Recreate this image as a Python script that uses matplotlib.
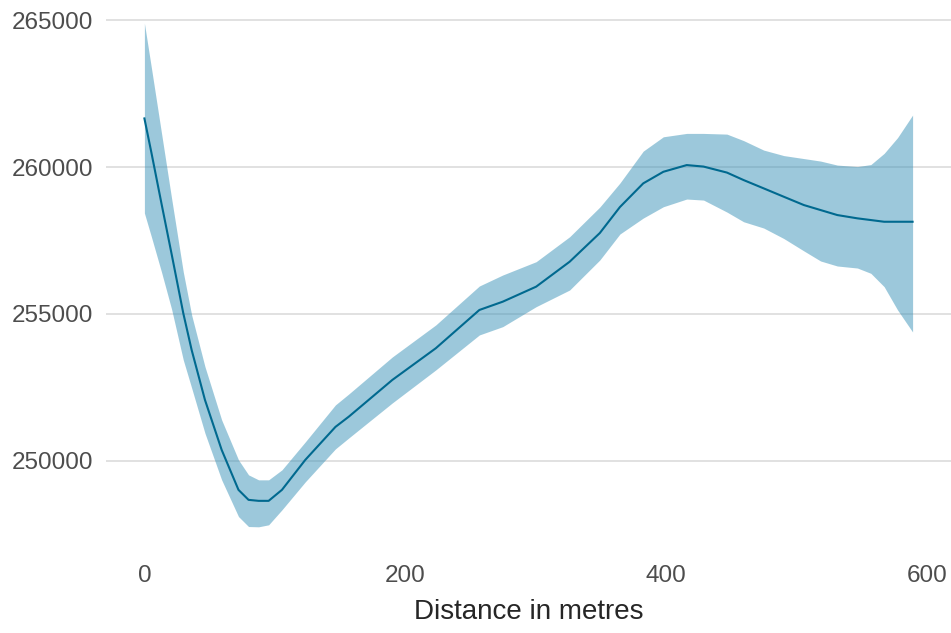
import matplotlib
matplotlib.use("Agg")
import matplotlib.pyplot as plt

plt.rcParams["font.family"] = ["Liberation Sans", "DejaVu Sans"]

# Smoothed price against distance, with its confidence band
distance = [0, 5.4, 13.1, 20.8, 29.8, 36.2, 46.4, 59.2, 72.1, 79.8, 87.5, 95.2,
            105.4, 123.3, 146.4, 156.7, 190, 223.3, 256.7, 274.6, 300.2, 325.9,
            349, 364.4, 382.3, 397.7, 415.6, 428.5, 446.4, 459.2, 474.6, 490,
            505.4, 518.2, 531, 546.4, 556.7, 566.9, 577.2, 588.7]
fit = [261656, 260483, 258755, 257051, 255024, 253775, 252075, 250374, 249013,
       248673, 248639, 248639, 249013, 250034, 251156, 251507, 252755, 253833,
       255136, 255418, 255929, 256779, 257755, 258639, 259446, 259840, 260068,
       260017, 259813, 259558, 259275, 258990, 258707, 258537, 258367, 258255,
       258197, 258139, 258139, 258139]
lower = [258435, 257619, 256428, 255170, 253435, 252483, 250942, 249354, 248105,
         247765, 247755, 247823, 248333, 249286, 250408, 250782, 251973, 253095,
         254286, 254568, 255248, 255816, 256837, 257721, 258265, 258650, 258912,
         258877, 258469, 258139, 257925, 257568, 257146, 256803, 256633, 256564,
         256384, 255929, 255136, 254388]
upper = [264898, 263367, 261156, 258946, 256428, 254966, 253207, 251394, 250034,
         249524, 249354, 249354, 249694, 250646, 251905, 252279, 253537, 254626,
         255952, 256326, 256779, 257629, 258639, 259456, 260544, 261031, 261146,
         261146, 261122, 260901, 260578, 260391, 260289, 260204, 260068, 260017,
         260085, 260466, 261003, 261769]

x_ticks = [0, 200, 400, 600]
y_ticks = [250000, 255000, 260000, 265000]
x_title = "Distance in metres"

fig = plt.figure(figsize=(9.51, 6.33), dpi=100)
ax = fig.add_axes([106 / 951, 81 / 633, 845 / 951, 554 / 633])

ax.fill_between(distance, lower, upper, color="#3a93b8", alpha=0.5,
                linewidth=0, zorder=2)
ax.plot(distance, fit, color="#00698f", linewidth=1.5, zorder=3)

span_x = max(distance) - min(distance)
ax.set_xlim(min(distance) - 0.05 * span_x, max(distance) + 0.05 * span_x)
span_y = max(upper) - min(lower)
ax.set_ylim(min(lower) - 0.05 * span_y, max(upper) + 0.05 * span_y)

ax.set_xticks(x_ticks)
ax.set_yticks(y_ticks)
ax.set_xticklabels([str(v) for v in x_ticks])
ax.set_yticklabels([str(v) for v in y_ticks])

ax.grid(axis="y", color="#d9d9d9", linewidth=1.1, zorder=1)
ax.grid(axis="x", visible=False)
ax.set_axisbelow(True)
for side in ax.spines.values():
    side.set_visible(False)

ax.tick_params(axis="both", length=0, labelsize=17.5, labelcolor="#4d4d4d")
ax.tick_params(axis="y", pad=9)
ax.tick_params(axis="x", pad=9)
ax.set_xlabel(x_title, fontsize=20, color="#262626", labelpad=9)

fig.savefig("out.png", dpi=100)
